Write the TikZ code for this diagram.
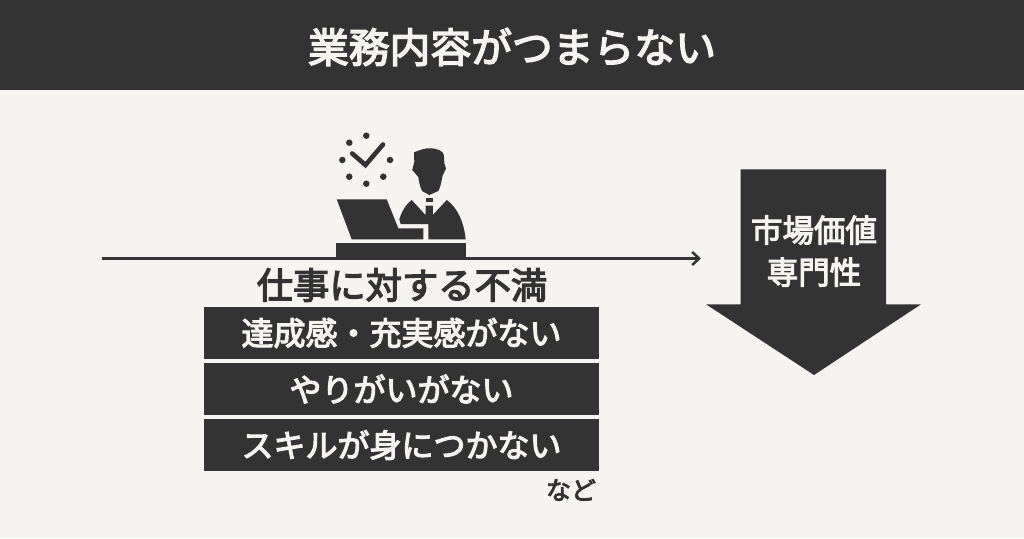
\documentclass[tikz,border=0pt]{standalone}
\usepackage{fontspec}
\usepackage{tikz}
\usetikzlibrary{arrows.meta}
\setmainfont{Noto Sans CJK JP}[FakeBold=3.5]
\definecolor{ink}{HTML}{333333}
\definecolor{paper}{HTML}{F5F4F0}

\begin{document}
\begin{tikzpicture}
[bar/.style={rectangle,fill=ink,minimum width=395pt,minimum height=52pt,inner sep=0pt}
,bartxt/.style={text=paper,inner sep=0pt,font=\fontsize{32}{32}\selectfont}
,lbl/.style={text=ink,inner sep=0pt,font=\fontsize{36.3}{36}\selectfont}
,dot/.style={circle,fill=ink,minimum size=6.5pt,inner sep=0pt}
,be/.style={draw=ink,line width=2.5pt,arrows={-Straight Barb[length=7pt,width=13pt,line width=2.5pt]}}
,x=1pt,y=-1pt]
% page and header
\fill[paper] (0,0) rectangle (1024,538);
\fill[ink] (0,0) rectangle (1024,90);
\node[text=paper,inner sep=0pt,font=\fontsize{40.8}{41}\selectfont] (title) at (512,47) {業務内容がつまらない};
% clock
\node[dot] (c1) at (366.3,135.7) {};
\node[dot] (c2) at (349.3,142.7) {};
\node[dot] (c3) at (342.3,160) {};
\node[dot] (c4) at (349.3,176.7) {};
\node[dot] (c5) at (366.3,183.7) {};
\node[dot] (c6) at (383.3,176.7) {};
\node[dot] (c7) at (390,160) {};
\draw[ink,line width=4.6pt,line cap=round,line join=miter] (352.2,153.5) -- (365.5,165) -- (383,144.5);
% person
\fill[ink] (414,152.3) .. controls (420,150) and (425,148) .. (430,148.3) .. controls (438,148.5) and (443,151) .. (443.8,155) -- (444.5,164) -- (446,168.5) -- (442.5,176) .. controls (441,184) and (440,188) .. (438.3,191) -- (429.3,195) -- (422,191) .. controls (420,187) and (419,182) .. (418.3,177) -- (412.3,170) -- (414.3,162) -- cycle;
\fill[ink] (426,197.7) rectangle (432.7,202.3);
\fill[ink] (411.7,200) -- (425.5,215) -- (425.5,205.5) -- (432.8,205.5) -- (432.8,215) -- (446.7,200) .. controls (457,207) and (464,222) .. (465.7,239.3) -- (428.3,239.3) -- (428.3,224) -- (400.7,224) -- (399.3,219.3) .. controls (402,211) and (406,204) .. (411.7,200) -- cycle;
% laptop and desk
\fill[ink] (336.7,199.3) -- (386.7,199.3) -- (398.3,228.3) -- (423.3,228.3) -- (423.3,239.3) -- (351.7,239.3) -- cycle;
\fill[ink] (336,243.3) rectangle (466,257.3);
% line
\coordinate (lineL) at (102,258.5);
\coordinate (lineR) at (701,258.5);
\draw[be] (lineL) -- (lineR);
% list
\node[lbl] (head) at (402,285) {仕事に対する不満};
\node[bar] (b1) at (401.5,333) {};
\node[bar] (b2) at (401.5,389) {};
\node[bar] (b3) at (401.5,445) {};
\node[bartxt] at (b1) {達成感・充実感がない};
\node[bartxt] at (b2) {やりがいがない};
\node[bartxt] at (b3) {スキルが身につかない};
\node[text=ink,inner sep=0pt,font=\fontsize{25}{25}\selectfont] (etc) at (571,490) {など};
% down arrow
\fill[ink] (740.7,169.3) -- (886,169.3) -- (886,304.3) -- (921,304.3) -- (814,375) -- (706,304.3) -- (740.7,304.3) -- cycle;
\node[text=paper,inner sep=0pt,align=center,font=\fontsize{31.5}{42}\selectfont] (val) at (814,251) {市場価値\\専門性};
\end{tikzpicture}
\end{document}
